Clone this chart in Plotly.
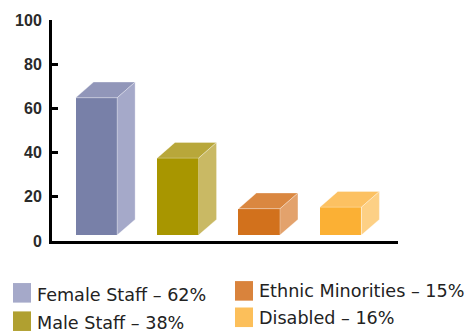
import plotly.graph_objects as go

# ---- data ----
categories = ["Female Staff", "Male Staff", "Ethnic Minorities", "Disabled"]
values = [64.8, 37.5, 14.6, 15.3]          # bar tops
legend_pct = ["62%", "38%", "15%", "16%"]  # legend labels
front_colors = ["#7880a8", "#a89600", "#d2711c", "#fbb034"]
side_colors = ["#a5a9c9", "#c9b964", "#e3a26c", "#fdd085"]
top_colors = ["#9196b9", "#b8a73a", "#da8740", "#fcc162"]
legend_colors = ["#a5a9c9", "#b0a030", "#d9833c", "#fcbf5a"]
y_ticks = [0, 20, 40, 60, 80, 100]

BASE = 2.67
WIDTH = 0.51
DX = 0.221
DY = 7.1
xs = list(range(len(categories)))

fig = go.Figure()

for i, (x, v) in enumerate(zip(xs, values)):
    # front face
    fig.add_trace(go.Bar(x=[x], y=[v - BASE], base=[BASE], width=WIDTH,
                         marker=dict(color=front_colors[i], line=dict(width=0)),
                         showlegend=False, hoverinfo="skip"))
    l, r = x - WIDTH / 2, x + WIDTH / 2
    # top face
    fig.add_trace(go.Scatter(x=[l, r, r + DX, l + DX, l], y=[v, v, v + DY, v + DY, v],
                             fill="toself", fillcolor=top_colors[i], mode="lines",
                             line=dict(width=0.6, color="rgba(255,255,255,0.5)"),
                             showlegend=False, hoverinfo="skip"))
    # side face
    fig.add_trace(go.Scatter(x=[r, r + DX, r + DX, r, r],
                             y=[BASE, BASE + DY, v + DY, v, BASE],
                             fill="toself", fillcolor=side_colors[i], mode="lines",
                             line=dict(width=0.6, color="rgba(255,255,255,0.5)"),
                             showlegend=False, hoverinfo="skip"))

W, H = 467, 334
ML, MR, MT, MB = 52, 69, 15, 93
PW, PH = W - ML - MR, H - MT - MB

def px_to_paper(px, py):
    return (px - ML) / PW, (H - MB - py) / PH

# custom legend: (swatch left px, swatch top px, text center px)
legend_pos = [(13, 284, 296), (13, 313, 325), (235, 282, 292), (235, 309, 320)]
for i, (sx, sy, ty) in enumerate(legend_pos):
    x0, y0 = px_to_paper(sx, sy)
    x1, y1 = px_to_paper(sx + 18, sy + 20)
    fig.add_shape(type="rect", xref="paper", yref="paper", x0=x0, x1=x1, y0=y1, y1=y0,
                  fillcolor=legend_colors[i], line=dict(width=0))
    tx, typ = px_to_paper(sx + 22, ty)
    fig.add_annotation(xref="paper", yref="paper", x=tx, y=typ, xanchor="left",
                       yanchor="middle", showarrow=False,
                       text=f"{categories[i]} \u2013 {legend_pct[i]}",
                       font=dict(family="DejaVu Sans", size=17.6, color="#222222"))

fig.update_layout(
    width=W, height=H, margin=dict(l=ML, r=MR, t=MT, b=MB),
    paper_bgcolor="white", plot_bgcolor="white", bargap=0,
    xaxis=dict(range=[-0.545, 3.705], showgrid=False, zeroline=False,
               showline=True, linecolor="black", linewidth=3,
               tickvals=[3.705], ticks="inside", ticklen=5, tickwidth=2.5,
               tickcolor="black", showticklabels=False),
    yaxis=dict(range=[0, 100], tickvals=y_ticks, showgrid=False, zeroline=False,
               showline=True, linecolor="black", linewidth=3,
               ticks="inside", ticklen=6, tickwidth=2.5, tickcolor="black",
               tickfont=dict(family="Liberation Sans", size=16, color="#2a2a2a", weight="bold"),
               ticklabelstandoff=4),
)

fig.write_html("out.html")
